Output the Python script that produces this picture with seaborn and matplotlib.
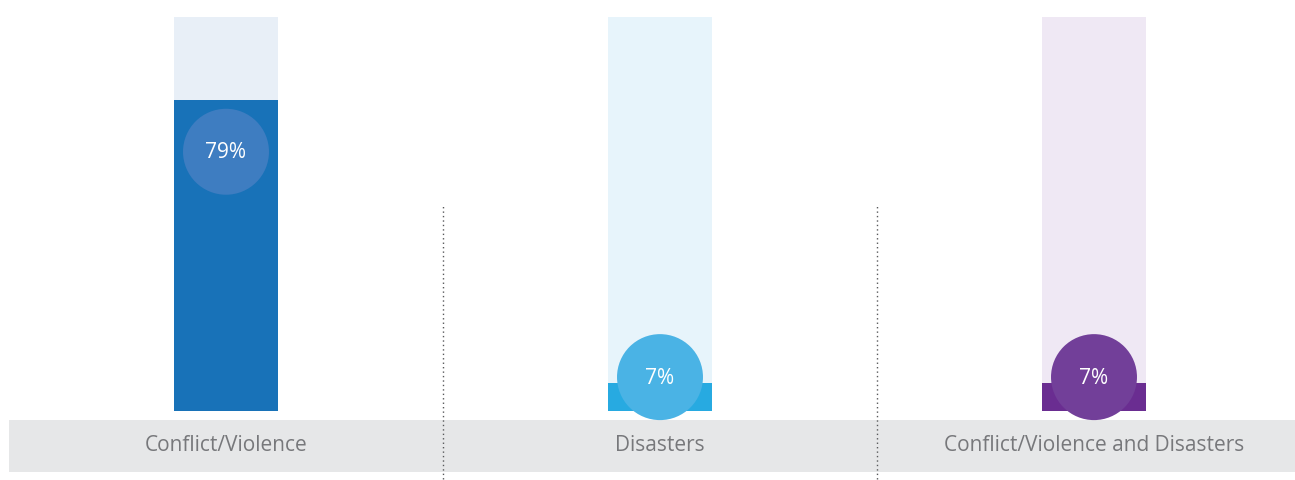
import numpy as np
import pandas as pd
import matplotlib
matplotlib.use("Agg")
import matplotlib.pyplot as plt
import seaborn as sns

categories = ["Conflict/Violence", "Disasters", "Conflict/Violence and Disasters"]
values = [79, 7, 7]
labels = ["79%", "7%", "7%"]
bar_colors = ["#1872b8", "#27aae1", "#6a2d91"]
bg_colors = ["#e8eff7", "#e7f4fb", "#efe8f4"]
circle_colors = ["#3e7dc1", "#4ab3e5", "#723f99"]

sns.set_theme(style="white")
plt.rcParams["font.family"] = ["Open Sans", "DejaVu Sans"]

W, H = 1295, 481
fig = plt.figure(figsize=(W / 100, H / 100), dpi=100)
ax = fig.add_axes([0, 0, 1, 1])

df = pd.DataFrame({"cat": categories, "val": values, "full": [100] * len(values)})

sns.barplot(data=df, x="cat", y="full", hue="cat", palette=bg_colors, width=0.24,
            legend=False, ax=ax, saturation=1, zorder=1, linewidth=0)
sns.barplot(data=df, x="cat", y="val", hue="cat", palette=bar_colors, width=0.24,
            legend=False, ax=ax, saturation=1, zorder=2, linewidth=0)

# axis mapping (pixel layout)
ax.set_xlim(-226 / 434, (W - 226) / 434)
ax.set_ylim((412 - H) / 3.94, 412 / 3.94)

# circles with labels
xs = np.arange(len(values))
circle_y = np.maximum(np.array(values) - 13.2, 8.6)
ax.scatter(xs, circle_y, s=3832, c=circle_colors, zorder=3, linewidths=0)
for x, y, t in zip(xs, circle_y, labels):
    ax.text(x, y, t, ha="center", va="center", color="white", fontsize=15, zorder=4)

# gray label band
ax.axhspan((412 - 473) / 3.94, (412 - 421) / 3.94, xmin=9 / W, xmax=1,
           color="#e6e7e8", zorder=0.5, lw=0)
for x, c in zip(xs, categories):
    ax.text(x, (412 - 446) / 3.94, c, ha="center", va="center", color="#77787b",
            fontsize=15, zorder=4)

# dotted dividers
ax.vlines([0.5, 1.5], (412 - 480) / 3.94, (412 - 207) / 3.94, colors="#58595b",
          linestyles=(0, (1, 2.2)), linewidth=1, zorder=5)

ax.set_xlabel("")
ax.set_ylabel("")
ax.set_xticks([])
ax.set_yticks([])
for s in ax.spines.values():
    s.set_visible(False)

fig.savefig("out.png", dpi=100)
